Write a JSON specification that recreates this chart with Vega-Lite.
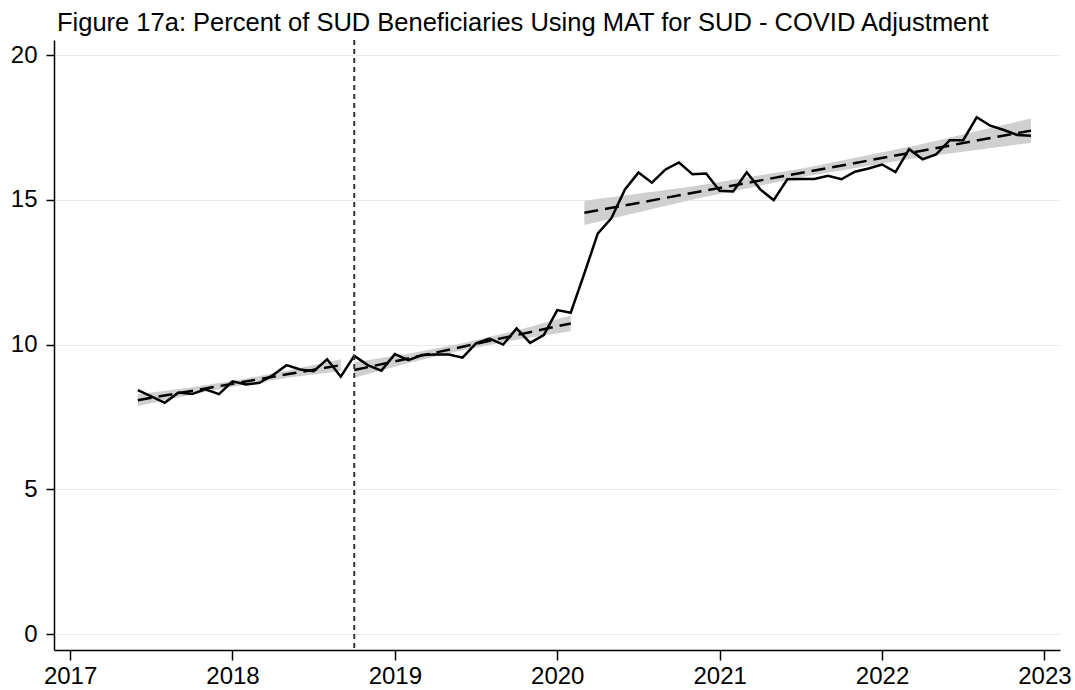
{
  "$schema": "https://vega.github.io/schema/vega-lite/v6.json",
  "autosize": "none",
  "width": 1006,
  "height": 610,
  "padding": {"left": 54, "top": 40, "right": 15, "bottom": 40},
  "background": "white",
  "title": {
    "text": "Figure 17a: Percent of SUD Beneficiaries Using MAT for SUD - COVID Adjustment",
    "anchor": "start",
    "frame": "group",
    "font": "Liberation Sans",
    "fontSize": 25.5,
    "fontWeight": "normal",
    "color": "black",
    "dx": 3,
    "offset": 3
  },
  "datasets": {
    "series": [
      {"x": 2017.417, "y": 8.43}, {"x": 2017.500, "y": 8.21}, {"x": 2017.583, "y": 7.99},
      {"x": 2017.667, "y": 8.34}, {"x": 2017.750, "y": 8.29}, {"x": 2017.833, "y": 8.45},
      {"x": 2017.917, "y": 8.29}, {"x": 2018.000, "y": 8.73}, {"x": 2018.083, "y": 8.62},
      {"x": 2018.167, "y": 8.68}, {"x": 2018.250, "y": 8.95}, {"x": 2018.333, "y": 9.29},
      {"x": 2018.417, "y": 9.14}, {"x": 2018.500, "y": 9.08}, {"x": 2018.583, "y": 9.49},
      {"x": 2018.667, "y": 8.89}, {"x": 2018.750, "y": 9.61}, {"x": 2018.833, "y": 9.29},
      {"x": 2018.917, "y": 9.10}, {"x": 2019.000, "y": 9.67}, {"x": 2019.083, "y": 9.46},
      {"x": 2019.167, "y": 9.64}, {"x": 2019.250, "y": 9.66}, {"x": 2019.333, "y": 9.66},
      {"x": 2019.417, "y": 9.55}, {"x": 2019.500, "y": 10.04}, {"x": 2019.583, "y": 10.21},
      {"x": 2019.667, "y": 10.00}, {"x": 2019.750, "y": 10.56}, {"x": 2019.833, "y": 10.06},
      {"x": 2019.917, "y": 10.33}, {"x": 2020.000, "y": 11.19}, {"x": 2020.083, "y": 11.10},
      {"x": 2020.167, "y": 12.46}, {"x": 2020.250, "y": 13.84}, {"x": 2020.333, "y": 14.36},
      {"x": 2020.417, "y": 15.36}, {"x": 2020.500, "y": 15.94}, {"x": 2020.583, "y": 15.59},
      {"x": 2020.667, "y": 16.05}, {"x": 2020.750, "y": 16.29}, {"x": 2020.833, "y": 15.88},
      {"x": 2020.917, "y": 15.91}, {"x": 2021.000, "y": 15.31}, {"x": 2021.083, "y": 15.29},
      {"x": 2021.167, "y": 15.95}, {"x": 2021.250, "y": 15.36}, {"x": 2021.333, "y": 14.99},
      {"x": 2021.417, "y": 15.71}, {"x": 2021.500, "y": 15.72}, {"x": 2021.583, "y": 15.72},
      {"x": 2021.667, "y": 15.83}, {"x": 2021.750, "y": 15.71}, {"x": 2021.833, "y": 15.97},
      {"x": 2021.917, "y": 16.08}, {"x": 2022.000, "y": 16.22}, {"x": 2022.083, "y": 15.96},
      {"x": 2022.167, "y": 16.75}, {"x": 2022.250, "y": 16.40}, {"x": 2022.333, "y": 16.57},
      {"x": 2022.417, "y": 17.06}, {"x": 2022.500, "y": 17.06}, {"x": 2022.583, "y": 17.85},
      {"x": 2022.667, "y": 17.56}, {"x": 2022.750, "y": 17.41}, {"x": 2022.833, "y": 17.24},
      {"x": 2022.917, "y": 17.21}
    ],
    "fit": [
      {"segment": 1, "x": 2017.417, "fit": 8.08, "lo": 7.88, "hi": 8.28},
      {"segment": 1, "x": 2017.729, "fit": 8.38, "lo": 8.25, "hi": 8.51},
      {"segment": 1, "x": 2018.042, "fit": 8.685, "lo": 8.585, "hi": 8.785},
      {"segment": 1, "x": 2018.354, "fit": 8.99, "lo": 8.86, "hi": 9.12},
      {"segment": 1, "x": 2018.667, "fit": 9.29, "lo": 9.09, "hi": 9.49},
      {"segment": 2, "x": 2018.750, "fit": 9.12, "lo": 8.85, "hi": 9.39},
      {"segment": 2, "x": 2019.083, "fit": 9.52, "lo": 9.36, "hi": 9.68},
      {"segment": 2, "x": 2019.417, "fit": 9.925, "lo": 9.805, "hi": 10.045},
      {"segment": 2, "x": 2019.750, "fit": 10.33, "lo": 10.17, "hi": 10.49},
      {"segment": 2, "x": 2020.083, "fit": 10.73, "lo": 10.46, "hi": 11.0},
      {"segment": 3, "x": 2020.167, "fit": 14.55, "lo": 14.13, "hi": 14.97},
      {"segment": 3, "x": 2020.854, "fit": 15.26, "lo": 15.04, "hi": 15.48},
      {"segment": 3, "x": 2021.542, "fit": 15.97, "lo": 15.82, "hi": 16.12},
      {"segment": 3, "x": 2022.229, "fit": 16.68, "lo": 16.46, "hi": 16.9},
      {"segment": 3, "x": 2022.917, "fit": 17.39, "lo": 16.97, "hi": 17.81}
    ],
    "event": [{"x": 2018.75}]
  },
  "encoding": {
    "x": {
      "field": "x",
      "type": "quantitative",
      "scale": {"domain": [2016.901, 2023.096], "nice": false, "zero": false},
      "axis": {"values": [2017, 2018, 2019, 2020, 2021, 2022, 2023], "format": "d", "title": null}
    }
  },
  "layer": [
    {
      "data": {"name": "fit"},
      "mark": {"type": "area", "color": "#d0d0d0", "opacity": 1},
      "encoding": {
        "y": {"field": "lo", "type": "quantitative", "scale": {"domain": [-0.55, 20.52], "nice": false, "zero": false}, "axis": {"values": [0, 5, 10, 15, 20], "title": null}},
        "y2": {"field": "hi"},
        "detail": {"field": "segment"}
      }
    },
    {
      "data": {"name": "series"},
      "mark": {"type": "line", "color": "black", "strokeWidth": 2.5},
      "encoding": {
        "y": {"field": "y", "type": "quantitative"}
      }
    },
    {
      "data": {"name": "fit"},
      "mark": {"type": "line", "color": "black", "strokeWidth": 2.5, "strokeDash": [14, 7]},
      "encoding": {
        "y": {"field": "fit", "type": "quantitative"},
        "detail": {"field": "segment"}
      }
    },
    {
      "data": {"name": "event"},
      "mark": {"type": "rule", "color": "#333333", "strokeWidth": 2, "strokeDash": [5, 4]},
      "encoding": {}
    }
  ],
  "config": {
    "view": {"stroke": null},
    "font": "Liberation Sans",
    "axis": {"labelFont": "Liberation Sans", "labelColor": "black", "domainColor": "black", "tickColor": "black", "domainWidth": 1.5, "tickWidth": 1.5, "labelFontSize": 24, "title": null},
    "axisX": {"grid": false, "tickSize": 10, "labelPadding": 4},
    "axisY": {"grid": true, "gridColor": "#ebebeb", "gridWidth": 1, "tickSize": 8, "labelPadding": 9}
  }
}
